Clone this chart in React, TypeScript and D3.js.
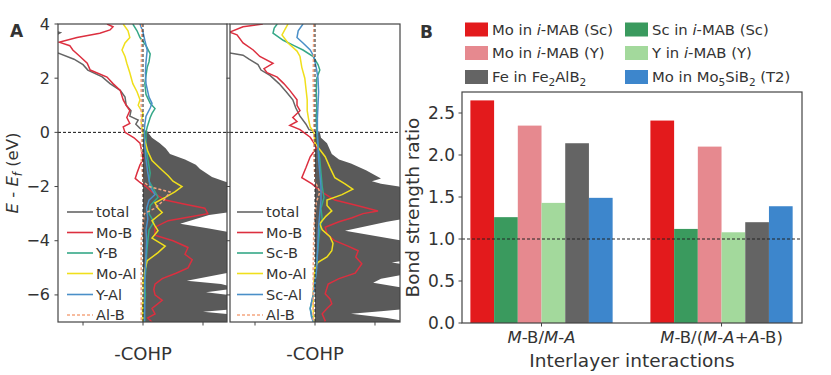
import React from 'react';
import * as d3 from 'd3';

type Pt = [number, number]; // [energy (eV), -COHP]

// ---------- Panel A, left (Y-based i-MAB) ----------
const totalY: Pt[] = [[4.0,-1.7],[3.75,-1.5],[3.68,-1.38],[3.6,-1.45],[3.3,-1.7],[2.93,-1.42],[2.7,-1.15],[2.5,-1.0],[2.3,-0.92],[2.05,-0.68],[1.8,-0.55],[1.55,-0.38],[1.3,-0.3],[1.0,-0.28],[0.8,-0.2],[0.6,-0.22],[0.45,-0.08],[0.3,-0.12],[0.15,-0.05],[0.0,0.08],[-0.2,0.15],[-0.4,0.28],[-0.6,0.38],[-0.8,0.45],[-1.0,0.7],[-1.2,0.88],[-1.35,0.95],[-1.5,1.05],[-1.65,1.15],[-1.8,1.35],[-2.0,1.6],[-2.3,1.8],[-2.6,1.7],[-2.9,1.6],[-3.05,1.1],[-3.37,0.62],[-3.55,1.1],[-3.75,1.6],[-4.0,1.8],[-4.5,1.7],[-4.9,1.6],[-5.15,1.5],[-5.48,0.73],[-5.6,1.3],[-5.75,1.6],[-5.9,1.05],[-6.05,1.6],[-6.5,1.7],[-6.62,1.0],[-6.75,1.6],[-7.0,1.7]];
const moBY: Pt[] = [[4.0,-0.6],[3.9,-0.5],[3.78,-0.55],[3.66,-0.72],[3.5,-1.1],[3.33,-1.4],[3.2,-1.22],[3.04,-1.17],[2.8,-1.05],[2.55,-0.93],[2.3,-0.88],[2.04,-0.6],[1.8,-0.5],[1.55,-0.38],[1.2,-0.33],[1.0,-0.28],[0.8,-0.22],[0.55,-0.27],[0.33,-0.22],[0.2,-0.33],[0.0,-0.3],[-0.2,-0.15],[-0.4,-0.05],[-0.7,-0.02],[-1.0,0.0],[-1.2,-0.05],[-1.5,-0.1],[-1.7,-0.13],[-1.85,-0.05],[-2.0,0.05],[-2.2,0.15],[-2.5,0.37],[-2.65,0.7],[-2.8,1.03],[-3.0,1.08],[-3.15,0.7],[-3.26,0.42],[-3.5,0.2],[-3.8,0.2],[-4.0,0.5],[-4.25,0.75],[-4.5,0.7],[-4.7,0.82],[-5.0,0.75],[-5.2,0.55],[-5.4,0.32],[-5.6,0.2],[-5.8,0.18],[-6.0,0.2],[-6.2,0.32],[-6.5,0.15],[-6.7,0.2],[-6.85,0.08],[-7.0,0.15]];
const yBY: Pt[] = [[4.0,-0.17],[3.75,-0.1],[3.5,-0.05],[3.2,0.05],[2.9,0.12],[2.6,0.1],[2.4,0.07],[2.1,0.05],[1.8,0.03],[1.4,0.05],[1.07,0.12],[0.88,0.2],[0.7,0.15],[0.55,0.12],[0.2,0.07],[0.0,0.05],[-0.5,0.05],[-1.0,0.08],[-1.5,0.12],[-1.8,0.1],[-2.1,0.18],[-2.4,0.25],[-2.7,0.12],[-3.0,0.1],[-3.3,0.18],[-3.6,0.1],[-4.0,0.08],[-4.5,0.06],[-5.0,0.05],[-5.5,0.03],[-6.0,0.04],[-6.5,0.02],[-7.0,0.03]];
const moAlY: Pt[] = [[4.0,-0.33],[3.75,-0.25],[3.5,-0.22],[3.3,-0.3],[3.04,-0.35],[2.8,-0.3],[2.55,-0.27],[2.2,-0.22],[1.8,-0.17],[1.5,-0.1],[1.2,-0.05],[1.0,-0.08],[0.7,0.0],[0.4,-0.03],[0.2,-0.02],[0.0,0.0],[-0.3,0.03],[-0.7,0.08],[-1.04,0.15],[-1.4,0.32],[-1.6,0.42],[-1.8,0.5],[-2.0,0.65],[-2.2,0.53],[-2.4,0.37],[-2.6,0.2],[-2.8,0.25],[-2.96,0.32],[-3.26,0.15],[-3.45,0.2],[-3.63,0.25],[-3.9,0.15],[-4.2,0.37],[-4.44,0.25],[-4.74,0.07],[-5.1,0.03],[-5.5,0.0],[-6.0,0.01],[-6.5,-0.01],[-7.0,0.0]];
const yAlY: Pt[] = [[4.0,-0.05],[3.7,0.0],[3.4,0.03],[3.04,0.07],[2.6,0.05],[2.2,0.04],[1.8,0.05],[1.3,0.1],[1.07,0.15],[0.9,0.12],[0.6,0.05],[0.3,0.03],[0.0,0.02],[-0.5,0.03],[-1.0,0.05],[-1.5,0.08],[-2.0,0.12],[-2.3,0.2],[-2.5,0.1],[-2.8,0.06],[-3.2,0.08],[-3.6,0.05],[-4.0,0.06],[-4.5,0.05],[-5.0,0.04],[-5.5,0.03],[-6.0,0.02],[-6.5,0.03],[-7.0,0.02]];
const alBY: Pt[] = [[4.0,-0.02],[2.0,-0.03],[0.5,-0.03],[0.0,-0.02],[-1.0,-0.03],[-1.8,0.0],[-2.0,0.1],[-2.2,0.45],[-2.5,0.35],[-2.8,0.2],[-3.0,0.02],[-4.0,-0.03],[-5.0,-0.03],[-6.0,-0.03],[-7.0,-0.03]];

// ---------- Panel A, right (Sc-based i-MAB) ----------
const totalSc: Pt[] = [[4.0,-1.7],[3.5,-1.6],[2.93,-1.42],[2.85,-1.2],[2.7,-1.1],[2.5,-0.95],[2.3,-0.9],[2.1,-0.75],[1.8,-0.6],[1.5,-0.48],[1.2,-0.37],[0.9,-0.32],[0.6,-0.25],[0.3,-0.15],[0.1,-0.1],[0.0,0.08],[-0.2,0.1],[-0.4,0.2],[-0.8,0.28],[-1.0,0.4],[-1.15,0.6],[-1.4,0.85],[-1.7,1.1],[-1.8,0.95],[-1.9,1.1],[-2.0,1.4],[-2.3,1.7],[-2.7,1.8],[-3.1,1.7],[-3.3,1.2],[-3.63,0.5],[-3.9,1.2],[-4.1,1.7],[-4.5,1.8],[-4.7,1.6],[-4.8,1.28],[-4.95,1.7],[-5.2,1.6],[-5.4,1.1],[-5.55,0.97],[-5.75,1.5],[-6.1,1.7],[-6.5,1.6],[-6.6,1.1],[-6.7,0.6],[-6.85,1.2],[-7.0,1.6]];
const moBSc: Pt[] = [[4.0,-0.87],[3.9,-1.2],[3.7,-1.42],[3.6,-1.3],[3.3,-1.2],[3.04,-1.03],[2.8,-0.92],[2.55,-0.7],[2.35,-0.85],[2.2,-0.8],[2.04,-0.63],[1.8,-0.52],[1.55,-0.42],[1.2,-0.3],[1.0,-0.3],[0.8,-0.25],[0.55,-0.37],[0.4,-0.3],[0.26,-0.42],[0.1,-0.25],[-0.18,-0.08],[-0.55,0.03],[-0.9,-0.08],[-1.3,-0.15],[-1.67,-0.22],[-1.9,-0.05],[-2.0,0.0],[-2.25,0.15],[-2.5,0.33],[-2.7,0.7],[-2.9,1.05],[-3.0,0.8],[-3.15,0.62],[-3.3,0.4],[-3.5,0.17],[-3.75,0.2],[-4.0,0.33],[-4.2,0.55],[-4.37,0.72],[-4.6,0.68],[-4.85,0.78],[-5.2,0.67],[-5.4,0.4],[-5.6,0.22],[-5.96,0.17],[-6.15,0.25],[-6.33,0.28],[-6.5,0.2],[-6.7,0.12],[-6.96,0.17],[-7.0,0.15]];
const scBSc: Pt[] = [[4.0,-0.63],[3.85,-0.68],[3.66,-0.7],[3.4,-0.53],[3.2,-0.35],[3.04,-0.2],[2.8,-0.03],[2.5,0.05],[2.3,0.08],[2.0,0.03],[1.5,0.02],[1.0,0.03],[0.5,0.02],[0.0,0.03],[-0.5,0.05],[-1.0,0.08],[-1.5,0.1],[-2.0,0.12],[-2.4,0.15],[-2.8,0.1],[-3.2,0.12],[-3.6,0.08],[-4.0,0.06],[-4.5,0.04],[-5.0,0.02],[-5.5,0.0],[-6.0,-0.03],[-6.5,-0.08],[-6.8,-0.05],[-7.0,-0.02]];
const moAlSc: Pt[] = [[4.0,-0.45],[3.8,-0.5],[3.6,-0.55],[3.3,-0.45],[3.0,-0.3],[2.8,-0.25],[2.4,-0.22],[2.0,-0.17],[1.6,-0.15],[1.2,-0.13],[0.8,-0.13],[0.4,-0.1],[0.2,-0.08],[0.0,-0.02],[-0.4,0.0],[-0.9,0.17],[-1.3,0.25],[-1.67,0.33],[-1.9,0.5],[-2.1,0.63],[-2.3,0.45],[-2.5,0.2],[-2.7,0.2],[-2.9,0.28],[-3.1,0.18],[-3.37,0.08],[-3.6,0.12],[-3.85,0.25],[-4.1,0.3],[-4.37,0.28],[-4.6,0.2],[-4.8,0.05],[-5.0,0.0],[-5.5,-0.02],[-6.0,-0.03],[-6.5,-0.03],[-7.0,-0.02]];
const scAlSc: Pt[] = [[4.0,-0.2],[3.75,-0.28],[3.5,-0.3],[3.3,-0.2],[3.04,-0.08],[2.8,-0.02],[2.4,0.02],[2.0,0.05],[1.5,0.06],[1.0,0.05],[0.5,0.04],[0.0,0.04],[-0.5,0.05],[-1.0,0.06],[-1.5,0.08],[-2.0,0.1],[-2.5,0.1],[-3.0,0.08],[-3.5,0.06],[-4.0,0.05],[-4.5,0.04],[-5.0,0.03],[-5.5,0.0],[-6.0,-0.03],[-6.5,-0.08],[-6.8,-0.06],[-7.0,-0.03]];
const alBSc: Pt[] = [[4.0,-0.02],[2.0,-0.03],[0.5,-0.02],[0.0,-0.02],[-1.0,-0.02],[-1.8,0.0],[-2.2,0.08],[-2.6,0.02],[-3.5,-0.02],[-5.0,-0.03],[-6.0,-0.03],[-7.0,-0.03]];

const legendY = ['total', 'Mo-B', 'Y-B', 'Mo-Al', 'Y-Al', 'Al-B'];
const legendSc = ['total', 'Mo-B', 'Sc-B', 'Mo-Al', 'Sc-Al', 'Al-B'];
const energyTicks = [4, 2, 0, -2, -4, -6];
const cohpTicks = [-1, 0, 1];

// ---------- Panel B ----------
const groupLabels = ['M-B/M-A', 'M-B/(M-A+A-B)'];
const moInMabSc = [2.65, 2.41];
const scInMabSc = [1.26, 1.12];
const moInMabY = [2.35, 2.1];
const yInMabY = [1.43, 1.08];
const feInFe2AlB2 = [2.14, 1.2];
const moInMo5SiB2 = [1.49, 1.39];
const ratioTicks = [0, 0.5, 1.0, 1.5, 2.0, 2.5];

const FONT = 'DejaVu Sans';
const TXT = '#333';
const SPINE = '#444';
const lineColors = ['#666666', '#dc2f3f', '#35a888', '#f0df1c', '#4a8fc8', '#f5a680'];
const barColors = ['#e31a1c', '#3a9a5e', '#e6898f', '#a3d99c', '#646464', '#3d86cc'];

type Seg = [string, boolean];
const italicParts = (s: string): Seg[] => {
  // M and A (element placeholders) are italic
  const out: Seg[] = [];
  for (const ch of s) {
    const it = ch === 'M' || ch === 'A';
    if (out.length && out[out.length - 1][1] === it) out[out.length - 1][0] += ch;
    else out.push([ch, it]);
  }
  return out;
};

const E_TOP = 24, E_BOT = 322;

function CohpPanel(props: {
  id: string; x0: number; x1: number; dom: [number, number];
  total: Pt[]; lines: Pt[][]; legend: string[]; legendX: number;
}) {
  const { id, x0, x1, dom, total, lines, legend, legendX } = props;
  const xs = d3.scaleLinear().domain(dom).range([x0, x1]);
  const ys = d3.scaleLinear().domain([4, -7]).range([E_TOP, E_BOT]);
  const line = d3.line<Pt>().x(d => xs(d[1])).y(d => ys(d[0]));
  const area = d3.area<Pt>().y(d => ys(d[0])).x0(xs(0)).x1(d => xs(d[1]));
  const below = total.filter(d => d[0] <= 0);
  const above = total.filter(d => d[0] >= 0);
  const legY = [212, 232.5, 253, 273.5, 294.5, 315];
  return (
    <g>
      <defs>
        <clipPath id={id}><rect x={x0} y={E_TOP} width={x1 - x0} height={E_BOT - E_TOP} /></clipPath>
      </defs>
      <g clipPath={`url(#${id})`}>
        <path d={area(below) || ''} fill="#5a5a5a" />
        <path d={line(above) || ''} fill="none" stroke={lineColors[0]} strokeWidth={1.5} />
        <line x1={x0} x2={x1} y1={ys(0)} y2={ys(0)} stroke="#111" strokeWidth={1} strokeDasharray="3,2" />
        {lines.map((pts, i) => (
          <path key={i} d={line(pts) || ''} fill="none" stroke={lineColors[i + 1]}
            strokeWidth={1.5} strokeDasharray={i === 4 ? '3,2' : undefined} />
        ))}
        <line x1={xs(0)} x2={xs(0)} y1={E_TOP} y2={E_BOT} stroke="#222" strokeWidth={1} strokeDasharray="3,2" />
      </g>
      <rect x={x0} y={E_TOP} width={x1 - x0} height={E_BOT - E_TOP} fill="none" stroke={SPINE} strokeWidth={1.2} />
      {energyTicks.map(t => (
        <line key={t} x1={x0 - 3.5} x2={x0} y1={ys(t)} y2={ys(t)} stroke={SPINE} strokeWidth={1} />
      ))}
      {cohpTicks.map(t => (
        <line key={t} x1={xs(t)} x2={xs(t)} y1={E_BOT} y2={E_BOT + 3.5} stroke={SPINE} strokeWidth={1} />
      ))}
      {legend.map((lab, i) => (
        <g key={lab}>
          <line x1={legendX} x2={legendX + 26} y1={legY[i]} y2={legY[i]} stroke={lineColors[i]}
            strokeWidth={1.6} strokeDasharray={i === 5 ? '3,2' : undefined} />
          <text x={legendX + 29} y={legY[i] + 5.2} fontSize={14.5} fontFamily={FONT} fill={TXT}>{lab}</text>
        </g>
      ))}
      <text x={xs(0)} y={360} textAnchor="middle" fontSize={18} fontFamily={FONT} fill={TXT}>-COHP</text>
    </g>
  );
}

function BarPanel() {
  const X0 = 462, X1 = 802, Y0 = 92, Y1 = 323;
  const xs = d3.scaleLinear().domain([-0.4417, 1.447]).range([X0, X1]);
  const ys = d3.scaleLinear().domain([0, 2.75]).range([Y1, Y0]);
  const series = [moInMabSc, scInMabSc, moInMabY, yInMabY, feInFe2AlB2, moInMo5SiB2];
  const bw = 0.1317;
  const legendItems: Seg[][] = [
    [['Mo in ', false], ['i', true], ['-MAB (Sc)', false]],
    [['Sc in ', false], ['i', true], ['-MAB (Sc)', false]],
    [['Mo in ', false], ['i', true], ['-MAB (Y)', false]],
    [['Y in ', false], ['i', true], ['-MAB (Y)', false]],
    [['Fe in Fe', false], ['2', false], ['AlB', false], ['2', false]],
    [['Mo in Mo', false], ['5', false], ['SiB', false], ['2', false], [' (T2)', false]],
  ];
  const subs: boolean[][] = [[], [], [], [], [false, true, false, true], [false, true, false, true, false]];
  const rowY = [29.5, 53, 77];
  return (
    <g fontFamily={FONT}>
      {series.map((vals, si) => vals.map((v, gi) => (
        <rect key={`${si}-${gi}`} x={xs(gi + (si - 3) * bw)} y={ys(v)}
          width={xs(bw) - xs(0)} height={ys(0) - ys(v)} fill={barColors[si]} />
      )))}
      <line x1={X0} x2={X1} y1={ys(1)} y2={ys(1)} stroke="#222" strokeWidth={1} strokeDasharray="3,2" />
      <rect x={X0} y={Y0} width={X1 - X0} height={Y1 - Y0} fill="none" stroke={SPINE} strokeWidth={1.2} />
      {ratioTicks.map(t => (
        <g key={t}>
          <line x1={X0 - 3.5} x2={X0} y1={ys(t)} y2={ys(t)} stroke={SPINE} strokeWidth={1} />
          <text x={X0 - 7} y={ys(t) + 6} textAnchor="end" fontSize={17} fill={TXT}>{t.toFixed(1)}</text>
        </g>
      ))}
      {groupLabels.map((g, gi) => (
        <g key={g}>
          <line x1={xs(gi)} x2={xs(gi)} y1={Y1} y2={Y1 + 3.5} stroke={SPINE} strokeWidth={1} />
          <text x={xs(gi)} y={343} textAnchor="middle" fontSize={16.5} fill={TXT}>
            {italicParts(g).map(([s, it], k) => (
              <tspan key={k} fontStyle={it ? 'italic' : 'normal'}>{s}</tspan>
            ))}
          </text>
        </g>
      ))}
      <text x={(X0 + X1) / 2} y={367} textAnchor="middle" fontSize={18.5} fill={TXT}>Interlayer interactions</text>
      <text transform={`translate(419,${(Y0 + Y1) / 2}) rotate(-90)`} textAnchor="middle" fontSize={18.5} fill={TXT}>Bond strength ratio</text>
      {legendItems.map((parts, i) => {
        const col = i % 2, row = Math.floor(i / 2);
        const sx = col === 0 ? 465 : 625;
        const cy = rowY[row];
        return (
          <g key={i}>
            <rect x={sx} y={cy - 7} width={23} height={14} fill={barColors[i]} />
            <text x={sx + 27} y={cy + 5.2} fontSize={14.8} fill={TXT}>
              {parts.map(([s, it], k) => {
                const sub = subs[i][k];
                const prevSub = k > 0 && subs[i][k - 1];
                const dy = sub ? 4 : prevSub ? -4 : 0;
                return (
                  <tspan key={k} fontStyle={it ? 'italic' : 'normal'} fontSize={sub ? 10.5 : 14.8} dy={dy}>{s}</tspan>
                );
              })}
            </text>
          </g>
        );
      })}
      <text x={420} y={38} fontSize={17} fontWeight="bold" fill={TXT}>B</text>
    </g>
  );
}

export default function App() {
  const ysA = d3.scaleLinear().domain([4, -7]).range([E_TOP, E_BOT]);
  return (
    <svg width={831} height={375} viewBox="0 0 831 375"
      style={{ position: 'absolute', left: 0, top: 0, background: '#fff' }}>
      <rect width={831} height={375} fill="#fff" />
      <CohpPanel id="cpY" x0={58} x1={227} dom={[-1.417, 1.4]} total={totalY}
        lines={[moBY, yBY, moAlY, yAlY, alBY]} legend={legendY} legendX={67} />
      <CohpPanel id="cpSc" x0={230} x1={400} dom={[-1.417, 1.417]} total={totalSc}
        lines={[moBSc, scBSc, moAlSc, scAlSc, alBSc]} legend={legendSc} legendX={237} />
      <g fontFamily={FONT}>
        {energyTicks.map(t => (
          <text key={t} x={50} y={ysA(t) + 5.5} textAnchor="end" fontSize={16} fill={TXT}>
            {t < 0 ? `\u2212${Math.abs(t)}` : `${t}`}
          </text>
        ))}
        <text transform={`translate(18,${(E_TOP + E_BOT) / 2}) rotate(-90)`} textAnchor="middle" fontSize={16.5} fill={TXT}>
          <tspan fontStyle="italic">E</tspan>
          <tspan>{' - '}</tspan>
          <tspan fontStyle="italic">E</tspan>
          <tspan fontStyle="italic" fontSize={11.5} dy={4}>f</tspan>
          <tspan dy={-4}>{' (eV)'}</tspan>
        </text>
        <text x={10} y={37} fontSize={17} fontWeight="bold" fill={TXT}>A</text>
      </g>
      <BarPanel />
    </svg>
  );
}
